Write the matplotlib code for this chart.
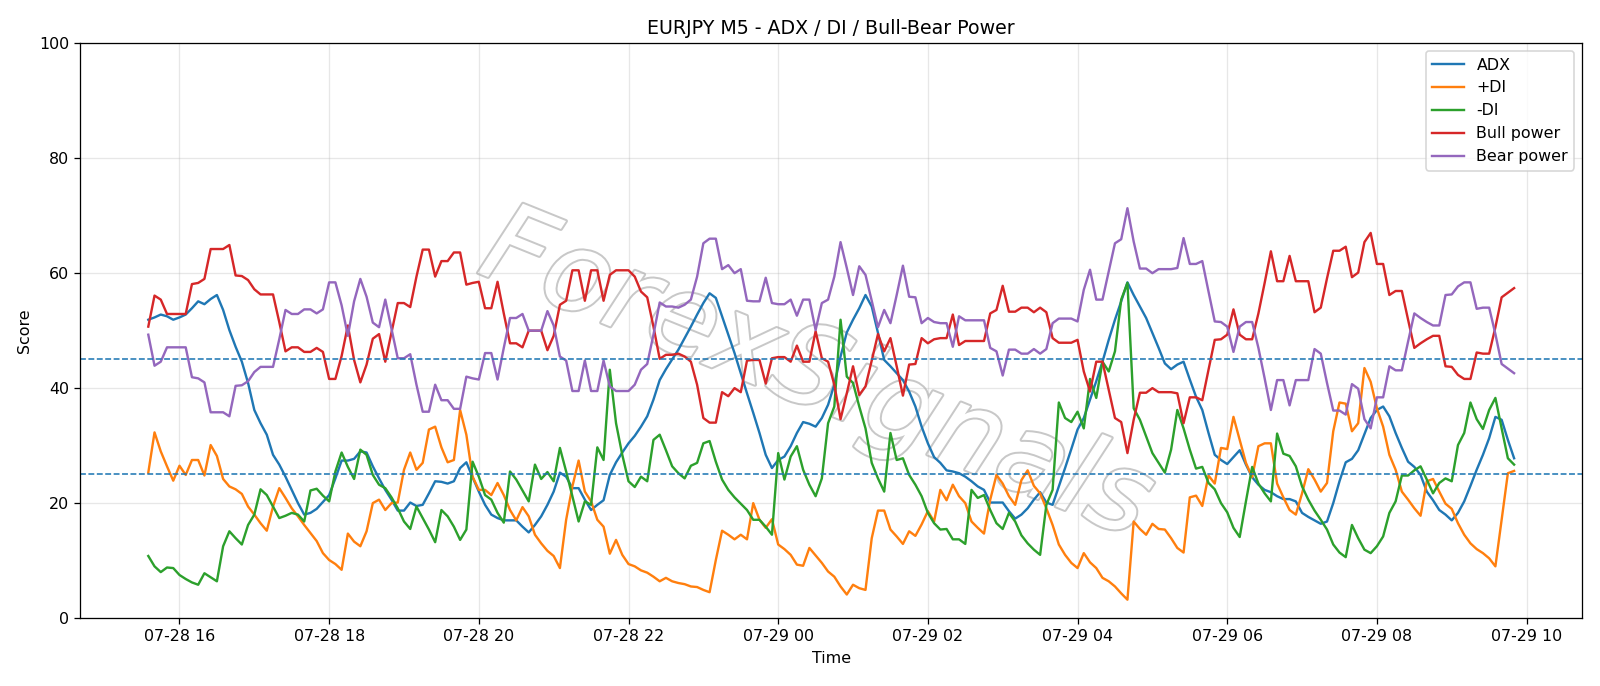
import numpy as np
import pandas as pd
import matplotlib
matplotlib.use("Agg")
import matplotlib.pyplot as plt
import matplotlib.dates as mdates
import matplotlib.patheffects as pe

# 5-minute bars, 07-28 15:35 -> 07-29 09:50
start_time = "2025-07-28 15:35"
n_bars = 220

adx = [
    51.9, 52.3, 52.8, 52.5, 51.9, 52.3, 52.8, 53.9, 55.1, 54.6, 55.5, 56.2, 53.6, 50.1, 47.2, 44.6, 40.9, 36.2, 33.9, 31.9,
    28.4, 26.7, 24.6, 22.3, 20.0, 18.0, 18.3, 19.0, 20.2,
    21.4, 24.3, 27.4, 27.4, 27.7, 29.0, 28.8, 26.4, 24.3, 22.3, 20.6, 18.7, 18.7, 20.1, 19.5, 19.7, 21.7, 23.8, 23.7, 23.4,
    23.8, 26.1, 27.1, 24.5, 22.0, 19.7, 18.0, 17.4,
    17.0, 17.0, 17.0, 15.9, 14.9, 16.2, 17.7, 19.7, 22.0, 25.3, 24.6, 22.6, 22.6, 20.6, 18.8, 19.7, 20.5, 24.9, 27.1, 28.8,
    30.4, 31.7, 33.3, 35.1, 38.0, 41.4, 43.3, 45.0,
    46.7, 48.7, 50.7, 52.8, 54.8, 56.5, 55.7, 52.5, 49.3, 46.1, 42.6, 39.1, 35.7, 32.2, 28.4, 26.1, 27.5, 28.1, 29.9, 32.2,
    34.1, 33.8, 33.3, 34.8, 37.1, 40.6, 45.5, 49.7,
    51.9, 53.9, 56.2, 54.2, 49.6, 44.9, 43.8, 42.6, 41.4, 39.4, 36.8, 33.3, 30.4, 28.0, 27.0, 25.7, 25.5, 25.2, 24.6, 23.8,
    22.9, 22.3, 20.1, 20.1, 20.1, 18.6, 17.3, 18.0,
    19.1, 20.6, 21.9, 20.1, 19.7, 22.9, 26.1, 29.4, 32.8, 34.8, 38.0, 41.2, 44.6, 48.4, 51.9, 55.1, 58.4, 56.2, 54.2, 52.2,
    49.6, 47.0, 44.3, 43.3, 44.1, 44.6, 41.5, 38.5,
    36.2, 32.2, 28.4, 27.5, 26.8, 28.0, 29.2, 26.7, 24.5, 23.2, 22.3, 21.9, 21.2, 20.7, 20.7, 20.3, 18.3, 17.6, 17.0, 16.4,
    16.8, 20.0, 23.8, 27.1, 27.7, 29.2, 32.0, 34.8,
    36.2, 36.8, 35.1, 32.2, 29.6, 27.2, 26.3, 24.9, 22.0, 20.5, 18.8, 18.0, 17.0, 18.3, 20.3, 23.0, 25.8, 28.4, 31.3, 35.0,
    34.5, 31.0, 27.8,
]

plus_di = [
    25.3, 32.3, 29.0, 26.4, 23.9, 26.5, 24.9, 27.5, 27.5, 24.8, 30.1, 28.2, 24.2, 22.9, 22.4, 21.6, 19.4, 18.0, 16.5, 15.2,
    19.4, 22.6, 20.9, 19.1, 17.7, 16.2, 14.8, 13.4, 11.3,
    10.1, 9.4, 8.4, 14.7, 13.3, 12.5, 15.1, 20.0, 20.6, 18.8, 20.0, 20.1, 25.8, 28.8, 25.8, 27.0, 32.8, 33.3, 29.7, 27.1,
    27.5, 36.2, 31.9, 24.6, 22.3, 22.3, 21.4, 23.5,
    21.4, 18.8, 17.0, 19.3, 17.7, 14.5, 13.0, 11.7, 10.8, 8.7, 17.1, 22.9, 27.4, 22.0, 20.3, 17.1, 15.9, 11.2, 13.6, 11.0,
    9.4, 9.0, 8.3, 7.9, 7.2, 6.4, 7.0, 6.4,
    6.1, 5.9, 5.5, 5.4, 4.9, 4.5, 10.1, 15.2, 14.5, 13.7, 14.5, 13.7, 20.0, 17.1, 15.7, 17.2, 12.8, 12.0, 11.0, 9.3,
    9.1, 12.2, 10.9, 9.6, 8.1, 7.2, 5.5, 4.1,
    5.8, 5.2, 4.9, 13.9, 18.7, 18.7, 15.4, 14.2, 12.9, 15.1, 14.3, 16.3, 18.6, 16.8, 22.3, 20.5, 23.2, 21.2, 20.0, 16.8,
    15.7, 14.7, 20.6, 24.9, 23.4, 21.2, 19.7, 24.0,
    25.7, 23.0, 21.7, 19.1, 16.2, 12.8, 11.0, 9.6, 8.7, 11.3, 9.7, 8.7, 7.0, 6.4, 5.5, 4.3, 3.2, 16.8, 15.5, 14.5,
    16.4, 15.5, 15.4, 13.9, 12.2, 11.4, 21.0, 21.3,
    19.5, 24.8, 23.4, 29.6, 29.4, 35.0, 31.0, 27.0, 24.5, 29.9, 30.4, 30.4, 23.4, 21.0, 18.8, 18.0, 21.7, 25.9, 24.1, 22.0,
    23.5, 32.5, 37.5, 37.3, 32.5, 33.9, 43.5, 41.1,
    36.5, 33.3, 28.4, 25.8, 22.0, 20.6, 19.1, 17.8, 23.8, 24.2, 22.0, 19.9, 19.0, 16.5, 14.5, 13.0, 12.0, 11.3, 10.4, 9.0,
    17.1, 25.2, 25.6,
]

minus_di = [
    10.8, 9.0, 8.0, 8.8, 8.7, 7.5, 6.8, 6.2, 5.8, 7.8, 7.1, 6.4, 12.5, 15.1, 13.9, 12.8, 16.2, 18.0, 22.4, 21.4,
    19.4, 17.4, 17.8, 18.3, 18.0, 16.8, 22.2, 22.5, 21.3,
    20.3, 25.5, 28.8, 26.3, 24.2, 29.3, 28.4, 24.9, 23.2, 22.6, 21.0, 19.1, 16.8, 15.5, 19.4, 17.4, 15.4, 13.2, 18.8, 17.7,
    15.9, 13.6, 15.4, 27.2, 24.6, 21.4, 20.6, 18.3,
    16.6, 25.5, 24.1, 22.2, 20.3, 26.7, 24.2, 25.4, 23.8, 29.6, 25.5, 21.2, 16.8, 20.3, 19.7, 29.7, 27.5, 43.2, 33.9, 28.4,
    23.8, 22.8, 24.6, 23.8, 31.0, 31.9, 29.2, 26.4,
    25.2, 24.3, 26.5, 27.0, 30.4, 30.8, 27.2, 24.1, 22.3, 21.0, 19.9, 18.8, 17.1, 17.1, 15.9, 14.5, 28.7, 24.1, 28.1, 29.9,
    25.8, 23.2, 21.2, 24.3, 33.9, 36.8, 51.9, 42.0,
    40.9, 36.8, 33.0, 27.0, 24.3, 22.0, 32.2, 27.5, 27.8, 24.9, 23.2, 21.2, 18.3, 16.5, 15.4, 15.5, 13.7, 13.7, 12.9, 22.3,
    20.9, 21.4, 18.8, 16.5, 15.5, 18.3, 16.8, 14.4,
    13.0, 11.9, 11.0, 19.7, 22.3, 37.5, 34.8, 34.1, 35.9, 33.0, 41.6, 38.3, 44.6, 42.9, 46.4, 55.4, 58.3, 36.5, 34.5, 31.6,
    28.7, 27.0, 25.3, 29.3, 36.2, 33.0, 29.3, 26.0,
    26.3, 23.5, 22.4, 20.0, 18.4, 15.7, 14.1, 20.3, 26.3, 23.4, 21.7, 20.3, 32.1, 28.6, 28.2, 26.4, 22.9, 20.6, 18.7, 17.1,
    15.4, 12.8, 11.4, 10.6, 16.2, 13.9, 11.9, 11.3,
    12.5, 14.2, 18.3, 20.3, 24.8, 24.8, 25.7, 26.4, 24.1, 21.7, 23.5, 24.3, 23.8, 30.1, 32.2, 37.5, 34.6, 32.9, 36.2, 38.3,
    33.0, 27.8, 26.7,
]

bull_power = [
    50.7, 56.1, 55.4, 52.9, 52.9, 52.9, 52.9, 58.1, 58.3, 59.0, 64.2, 64.2, 64.2, 64.9, 59.6, 59.5, 58.8, 57.2, 56.3, 56.3,
    56.3, 51.5, 46.4, 47.1, 47.1, 46.3, 46.3, 47.0, 46.3,
    41.6, 41.6, 45.6, 50.9, 44.9, 41.0, 44.1, 48.6, 49.4, 44.6, 49.7, 54.8, 54.8, 54.1, 59.4, 64.1, 64.1, 59.4, 62.1, 62.1,
    63.6, 63.6, 58.0, 58.3, 58.5, 53.9, 53.9, 58.5,
    53.0, 47.8, 47.8, 47.1, 50.0, 50.0, 50.0, 46.6, 49.1, 54.5, 55.2, 60.5, 60.5, 55.2, 60.5, 60.5, 55.2, 59.7, 60.5, 60.5,
    60.5, 59.4, 56.8, 55.8, 50.7, 45.1, 45.8, 45.8,
    46.0, 45.5, 44.6, 40.6, 34.8, 34.0, 34.0, 39.3, 38.6, 40.0, 39.3, 44.8, 44.9, 44.9, 40.8, 45.2, 45.4, 45.4, 44.6, 47.4,
    44.6, 44.6, 49.9, 45.2, 44.6, 40.6, 34.6, 39.1,
    43.8, 38.8, 40.3, 44.8, 49.4, 46.4, 48.7, 43.8, 38.7, 44.1, 44.2, 48.7, 47.8, 48.5, 48.7, 48.7, 52.8, 47.5, 48.2, 48.2,
    48.2, 48.2, 53.0, 53.6, 57.8, 53.3, 53.3, 54.0,
    54.0, 53.2, 54.0, 53.2, 48.7, 47.9, 47.9, 47.9, 48.4, 42.9, 39.4, 44.6, 44.6, 39.7, 34.8, 34.1, 28.7, 34.5, 39.2, 39.2,
    40.0, 39.3, 39.3, 39.3, 39.1, 33.9, 38.4, 38.4,
    37.9, 43.2, 48.4, 48.5, 49.3, 53.7, 49.3, 48.5, 48.5, 53.0, 58.3, 63.8, 58.6, 58.6, 63.0, 58.6, 58.6, 58.6, 53.2, 54.0,
    59.1, 63.9, 63.9, 64.6, 59.3, 60.1, 65.4, 67.0,
    61.6, 61.6, 56.2, 56.9, 56.9, 51.9, 47.0, 47.8, 48.5, 49.1, 49.1, 43.8, 43.7, 42.3, 41.6, 41.6, 46.2, 46.0, 46.0, 50.6,
    55.8, 56.6, 57.4,
]

bear_power = [
    49.3, 43.9, 44.6, 47.1, 47.1, 47.1, 47.1, 41.9, 41.7, 41.0, 35.8, 35.8, 35.8, 35.1, 40.4, 40.5, 41.2, 42.8, 43.7, 43.7,
    43.7, 48.5, 53.6, 52.9, 52.9, 53.7, 53.7, 53.0, 53.7,
    58.4, 58.4, 54.4, 49.1, 55.1, 59.0, 55.9, 51.4, 50.6, 55.4, 50.3, 45.2, 45.2, 45.9, 40.6, 35.9, 35.9, 40.6, 37.9, 37.9,
    36.4, 36.4, 42.0, 41.7, 41.5, 46.1, 46.1, 41.5,
    47.0, 52.2, 52.2, 52.9, 50.0, 50.0, 50.0, 53.4, 50.9, 45.5, 44.8, 39.5, 39.5, 44.8, 39.5, 39.5, 44.8, 40.3, 39.5, 39.5,
    39.5, 40.6, 43.2, 44.2, 49.3, 54.9, 54.2, 54.2,
    54.0, 54.5, 55.4, 59.4, 65.2, 66.0, 66.0, 60.7, 61.4, 60.0, 60.7, 55.2, 55.1, 55.1, 59.2, 54.8, 54.6, 54.6, 55.4, 52.6,
    55.4, 55.4, 50.1, 54.8, 55.4, 59.4, 65.4, 60.9,
    56.2, 61.2, 59.7, 55.2, 50.6, 53.6, 51.3, 56.2, 61.3, 55.9, 55.8, 51.3, 52.2, 51.5, 51.3, 51.3, 47.2, 52.5, 51.8, 51.8,
    51.8, 51.8, 47.0, 46.4, 42.2, 46.7, 46.7, 46.0,
    46.0, 46.8, 46.0, 46.8, 51.3, 52.1, 52.1, 52.1, 51.6, 57.1, 60.6, 55.4, 55.4, 60.3, 65.2, 65.9, 71.3, 65.5, 60.8, 60.8,
    60.0, 60.7, 60.7, 60.7, 60.9, 66.1, 61.6, 61.6,
    62.1, 56.8, 51.6, 51.5, 50.7, 46.3, 50.7, 51.5, 51.5, 47.0, 41.7, 36.2, 41.4, 41.4, 37.0, 41.4, 41.4, 41.4, 46.8, 46.0,
    40.9, 36.1, 36.1, 35.4, 40.7, 39.9, 34.6, 33.0,
    38.4, 38.4, 43.8, 43.1, 43.1, 48.1, 53.0, 52.2, 51.5, 50.9, 50.9, 56.2, 56.3, 57.7, 58.4, 58.4, 53.8, 54.0, 54.0, 49.4,
    44.2, 43.4, 42.6,
]

times = pd.date_range(start_time, periods=n_bars, freq="5min")

DPI = 1600 / 14
fig, ax = plt.subplots(figsize=(14, 686 / DPI), dpi=DPI)
fig.subplots_adjust(left=0.05, right=0.989, top=0.937, bottom=0.099)

# watermark
ax.text(0.49, 0.42, "ForexSignals", transform=ax.transAxes, fontsize=70,
        rotation=-22, ha="center", va="center", color="white", fontstyle="italic",
        zorder=0, path_effects=[pe.withStroke(linewidth=2.5, foreground="#c8c8c8")])

ax.plot(times, adx, label="ADX")
ax.plot(times, plus_di, label="+DI")
ax.plot(times, minus_di, label="-DI")
ax.plot(times, bull_power, label="Bull power")
ax.plot(times, bear_power, label="Bear power")

ax.axhline(45, linestyle="--", linewidth=1)
ax.axhline(25, linestyle="--", linewidth=1)

ax.set_ylim(0, 100)
ax.set_title("EURJPY M5 - ADX / DI / Bull-Bear Power")
ax.set_xlabel("Time")
ax.set_ylabel("Score")
ax.grid(True, alpha=0.3)
ax.legend(loc="upper right")

ax.xaxis.set_major_locator(mdates.HourLocator(interval=2))
ax.xaxis.set_major_formatter(mdates.DateFormatter("%m-%d %H"))

fig.savefig("out.png", dpi=DPI)
